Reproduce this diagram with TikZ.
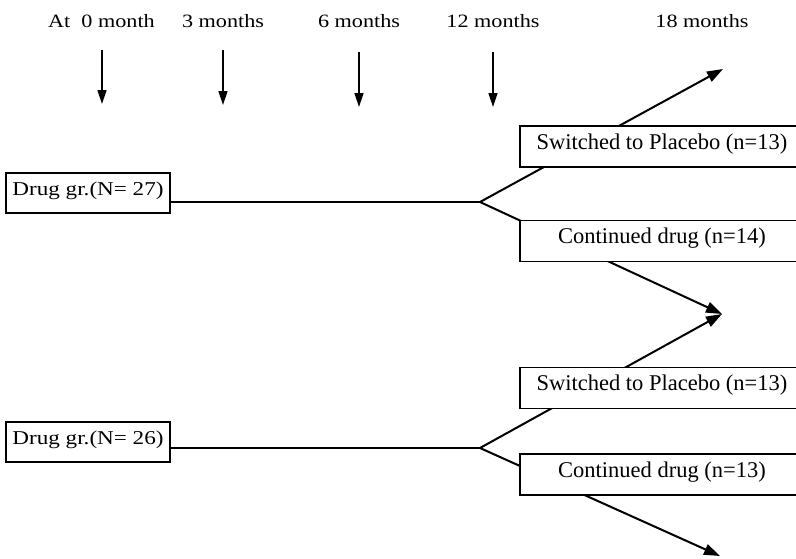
\documentclass[tikz,border=0pt]{standalone}
\usepackage{fontspec}
\setmainfont{Liberation Serif}[FakeStretch=1.18]
\newfontfamily\armfont{Liberation Serif}
\usetikzlibrary{arrows.meta}
\begin{document}
\begin{tikzpicture}[x=1pt,y=-1pt,
  every node/.style={font=\fontsize{18.8}{22}\selectfont, inner sep=0pt},
  lbl/.style={anchor=base},
  grpbox/.style={draw, line width=1.1pt, fill=white, minimum width=164pt, minimum height=40pt, text height=12pt, text depth=8pt, font=\fontsize{19.6}{23}\selectfont},
  armbox/.style={draw, line width=1.1pt, fill=white, minimum width=284pt, minimum height=41pt, text height=12pt, text depth=7pt, font=\armfont\fontsize{22.5}{26}\selectfont},
  tick/.style={line width=1.5pt, -{Triangle[length=14pt,width=9pt]}},
  brarrow/.style={line width=2pt, -{Triangle[length=16pt,width=11pt]}},
  hline/.style={line width=1.3pt}]
\useasboundingbox (0,0) rectangle (796,558);
% time labels
\node[lbl] (t0) at (101.5,27) {At\ \ 0 month};
\node[lbl] (t3) at (223,27) {3 months};
\node[lbl] (t6) at (359,27) {6 months};
\node[lbl] (t12) at (493,27) {12 months};
\node[lbl] (t18) at (702,27) {18 months};
% tick arrows
\coordinate (a0s) at (102,50);  \coordinate (a0e) at (102,104);
\coordinate (a3s) at (223,50);  \coordinate (a3e) at (223,105);
\coordinate (a6s) at (359,52);  \coordinate (a6e) at (359,107);
\coordinate (a12s) at (493,52); \coordinate (a12e) at (493,107);
\draw[tick] (a0s) -- (a0e);
\draw[tick] (a3s) -- (a3e);
\draw[tick] (a6s) -- (a6e);
\draw[tick] (a12s) -- (a12e);
% group boxes
\node[grpbox] (g1) at (88,193) {Drug gr.(N= 27)};
\node[grpbox] (g2) at (88,442) {Drug gr.(N= 26)};
% junctions and tips
\coordinate (j1) at (480,202);
\coordinate (j2) at (480,448);
\coordinate (tip1) at (723,69);
\coordinate (tip2) at (722,314);
\coordinate (tip3) at (720,556);
\draw[hline] (j1 -| g1.east) -- (j1);
\draw[hline] (j2 -| g2.east) -- (j2);
\draw[brarrow] (j1) -- (tip1);
\draw[brarrow] (j1) -- (tip2);
\draw[brarrow] (j2) -- (tip2);
\draw[brarrow] (j2) -- (tip3);
% arm boxes (drawn over the branch lines)
\node[armbox] (s1) at (662,146.5) {Switched to Placebo (n=13)};
\node[armbox] (c1) at (662,241) {Continued drug (n=14)};
\node[armbox] (s2) at (662,388) {Switched to Placebo (n=13)};
\node[armbox] (c2) at (662,474.5) {Continued drug (n=13)};
\end{tikzpicture}
\end{document}
